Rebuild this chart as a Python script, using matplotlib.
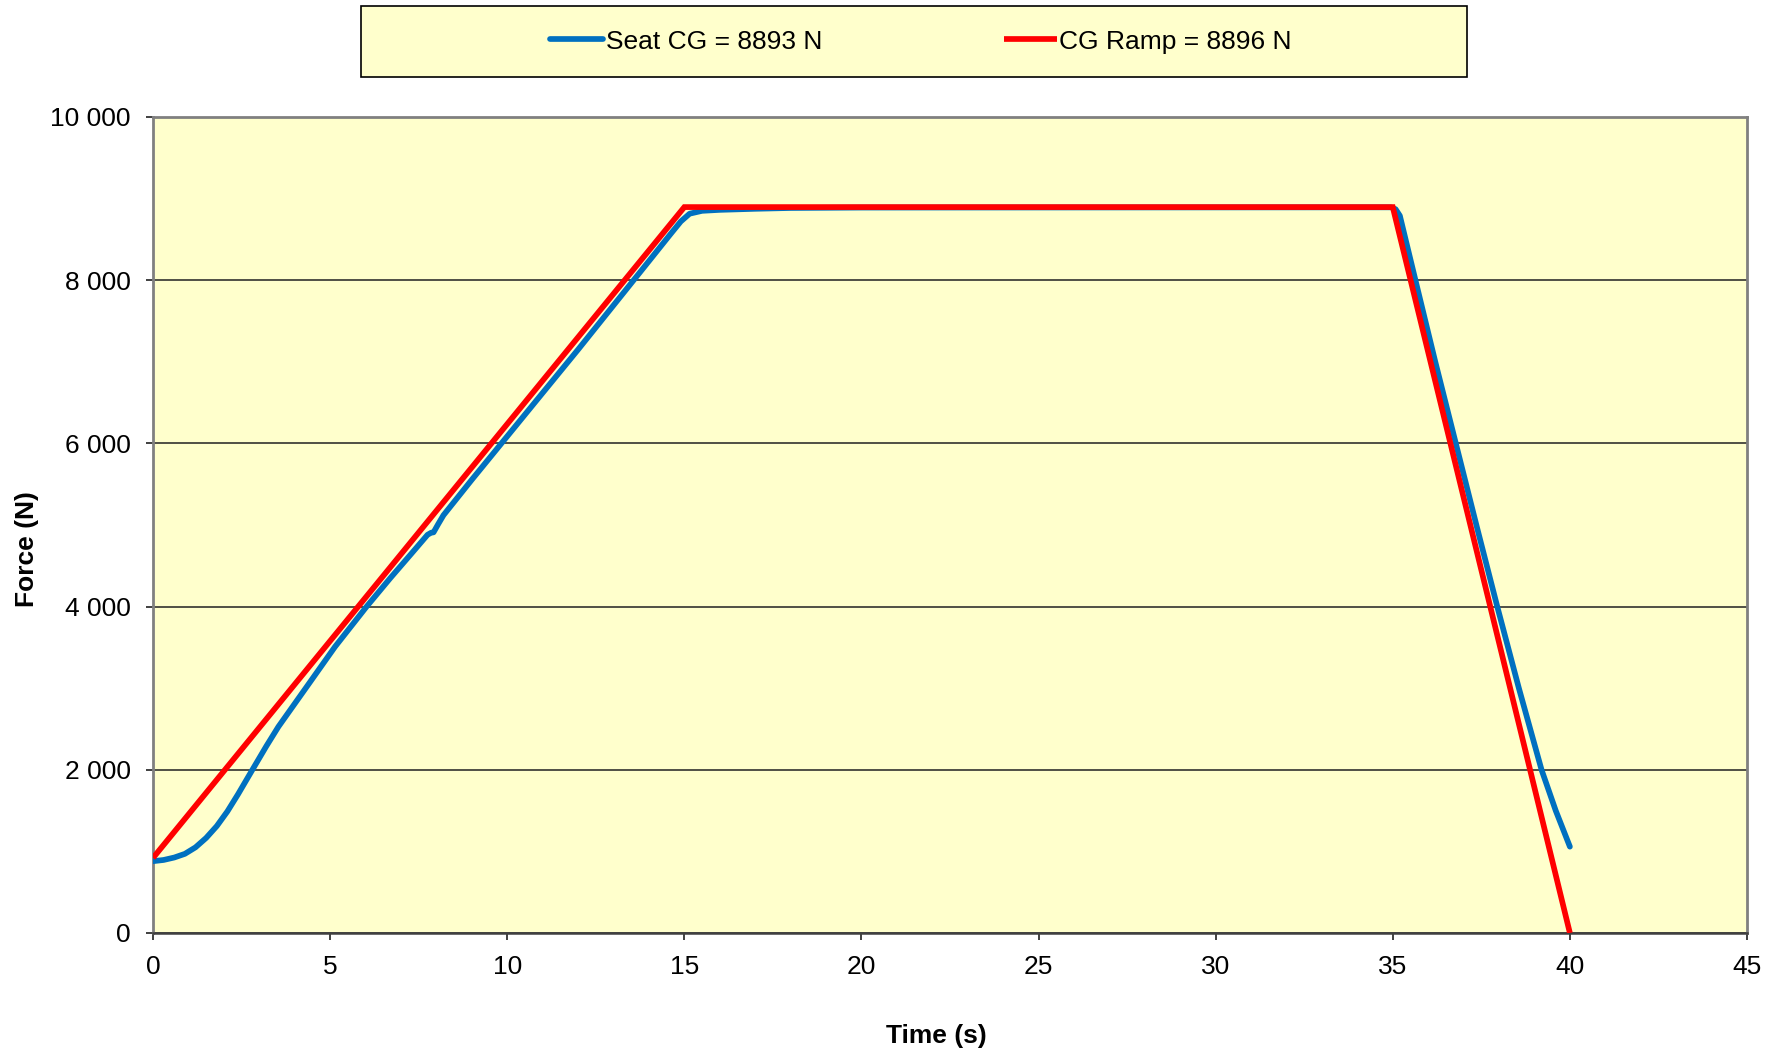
import matplotlib
matplotlib.use("Agg")
import matplotlib.pyplot as plt
from matplotlib.ticker import FuncFormatter
from matplotlib.patches import Rectangle

plt.rcParams['font.family'] = ['Liberation Sans', 'DejaVu Sans']

# Seat CG measured force (N) vs time (s)
seat_t = [0.0, 0.3, 0.6, 0.9, 1.2, 1.5, 1.8, 2.1, 2.4, 2.83, 3.2, 3.54, 4.34, 5.14,
          6.03, 6.7, 7.3, 7.75, 7.85, 7.92, 8.05, 8.2, 9.0, 10.0, 11.0, 12.0, 13.0,
          14.0, 14.6, 14.9, 15.15, 15.5, 16.0, 17.0, 18.0, 20.0, 34.95, 35.08, 35.2,
          35.64, 36.2, 36.78, 37.36, 37.95, 38.56, 39.2, 39.6, 40.0]
seat_f = [880, 895, 925, 970, 1050, 1165, 1310, 1490, 1700, 2018, 2290, 2528, 3018, 3509,
          4000, 4350, 4652, 4880, 4905, 4910, 5010, 5120, 5555, 6087, 6619, 7150, 7692,
          8234, 8560, 8720, 8815, 8850, 8862, 8875, 8885, 8890, 8893, 8870, 8790,
          8000, 7000, 6000, 5000, 4000, 3000, 2000, 1500, 1058]

# CG ramp (N) vs time (s)
ramp_t = [0.0, 15.0, 35.0, 40.0]
ramp_f = [920, 8896, 8896, 0]

labels = ["Seat CG = 8893 N", "CG Ramp = 8896 N"]
x_ticks = [0, 5, 10, 15, 20, 25, 30, 35, 40, 45]
y_ticks = [0, 2000, 4000, 6000, 8000, 10000]

bg = '#FFFFCC'
fs = 19
fig = plt.figure(figsize=(17.79, 10.54), dpi=100)
ax = fig.add_axes([153/1779, 1-933/1054, (1747-153)/1779, (933-117)/1054])
ax.set_facecolor(bg)

ax.plot(seat_t, seat_f, color='#0070C0', lw=4.1, solid_capstyle='round',
        solid_joinstyle='round', label=labels[0], zorder=3)
ax.plot(ramp_t, ramp_f, color='#FF0000', lw=4.1, solid_capstyle='butt',
        solid_joinstyle='miter', label=labels[1], zorder=4)

ax.set_xlim(0, 45)
ax.set_ylim(0, 10000)
ax.set_xticks(x_ticks)
ax.set_yticks(y_ticks)
ax.yaxis.set_major_formatter(FuncFormatter(lambda v, p: f"{int(v):,}".replace(",", " ")))
ax.grid(axis='y', color='#202020', lw=1.1, zorder=1)
ax.set_axisbelow(True)
for s in ['left', 'top', 'right']:
    ax.spines[s].set_color('#808080')
    ax.spines[s].set_linewidth(2)
ax.spines['bottom'].set_color('#404040')
ax.spines['bottom'].set_linewidth(1.8)
ax.tick_params(axis='both', direction='out', length=5, width=1.2, color='#202020',
               labelsize=fs, pad=11)

ax.set_xlabel("Time (s)", fontsize=fs, fontweight='bold', va='center')
ax.set_ylabel("Force (N)", fontsize=fs, fontweight='bold', va='center')
ax.xaxis.set_label_coords((936 - 153) / 1594, (933 - 1036) / 816)
ax.yaxis.set_label_coords((27 - 153) / 1594, (933 - 549) / 816)

# legend box
rect = Rectangle((361/1779, 1-77/1054), (1467-361)/1779, (77-6)/1054,
                 transform=fig.transFigure, facecolor=bg, edgecolor='black', lw=1.2)
fig.patches.append(rect)
h, l = ax.get_legend_handles_labels()
fig.legend(h, l, loc='center', bbox_to_anchor=(921/1779, 1-41.5/1054), ncol=2,
           frameon=False, fontsize=fs, handlelength=2.0, handletextpad=0.1,
           columnspacing=6.9)

fig.savefig("out.png", dpi=100, facecolor='white')
